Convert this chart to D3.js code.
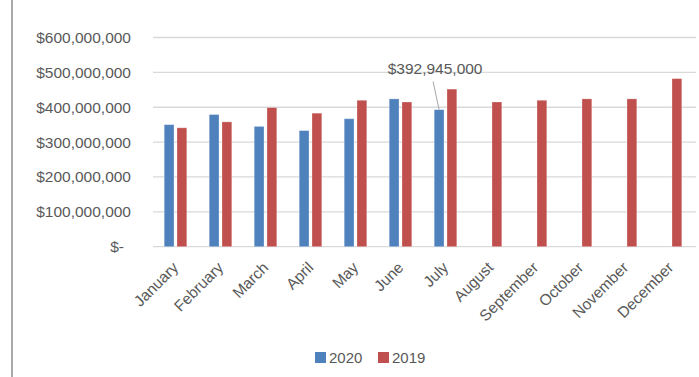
<!DOCTYPE html>
<html>
<head>
<meta charset="utf-8">
<script src="https://cdn.jsdelivr.net/npm/d3@7"></script>
<style>
  body { margin: 0; background: #fff; }
  svg { display: block; font-family: "Liberation Sans", Arial, sans-serif; }
</style>
</head>
<body>
<div id="chart"></div>
<script>
// Monthly values
const months = ["January", "February", "March", "April", "May", "June", "July",
  "August", "September", "October", "November", "December"];
const sales2020 = [350e6, 379e6, 345e6, 333e6, 367e6, 424e6, 392945000, null, null, null, null, null];
const sales2019 = [341e6, 358e6, 399e6, 383e6, 420e6, 415e6, 452e6, 415e6, 420e6, 424e6, 424e6, 482e6];
const yTicks = [0, 100e6, 200e6, 300e6, 400e6, 500e6, 600e6];
const seriesNames = ["2020", "2019"];

const width = 699, height = 377;
const blue = "#4f81bd", red = "#c0504d";
const textColor = "#595959";

const svg = d3.select("#chart").append("svg")
  .attr("width", width).attr("height", height);

// left frame edge
svg.append("line")
  .attr("x1", 12).attr("x2", 12).attr("y1", 0).attr("y2", height)
  .attr("stroke", "#8c8c8c").attr("stroke-width", 1.5);

const plot = { left: 153, right: 693, top: 37.5, bottom: 246.7 };

const x = d3.scaleBand().domain(months).range([plot.left, plot.right]);
const y = d3.scaleLinear().domain([0, 600e6]).range([plot.bottom, plot.top]);

// gridlines
svg.append("g").selectAll("line").data(yTicks).enter().append("line")
  .attr("x1", plot.left).attr("x2", 696)
  .attr("y1", d => y(d)).attr("y2", d => y(d))
  .attr("stroke", "#d9d9d9").attr("stroke-width", 1.3);

// y axis labels
const fmt = d3.format(",");
svg.append("g").selectAll("text").data(yTicks).enter().append("text")
  .attr("x", d => d === 0 ? 124 : 131)
  .attr("y", d => y(d)).attr("dy", "0.35em")
  .attr("text-anchor", "end")
  .attr("font-size", "15.5px").attr("fill", textColor)
  .text(d => d === 0 ? "$-" : "$" + fmt(d));

// bars
const barW = 9.8, gap = 3;
const series = [sales2020, sales2019];
const colors = [blue, red];
series.forEach((vals, si) => {
  svg.append("g").selectAll("rect")
    .data(months.map((m, i) => ({ m, v: vals[i] })).filter(d => d.v != null))
    .enter().append("rect")
    .attr("x", d => x(d.m) + x.bandwidth() / 2 - barW - gap / 2 + si * (barW + gap))
    .attr("y", d => y(d.v))
    .attr("width", barW)
    .attr("height", d => y(0) - y(d.v))
    .attr("fill", colors[si])
    .attr("stroke", "#ffffff").attr("stroke-opacity", 0.35).attr("stroke-width", 0.8);
});

// data label for July 2020
const julyX = x("July") + x.bandwidth() / 2 - gap / 2 - barW / 2;
svg.append("line")
  .attr("x1", julyX - 6).attr("y1", 81.5)
  .attr("x2", julyX).attr("y2", y(sales2020[6]))
  .attr("stroke", "#a6a6a6").attr("stroke-width", 1);
svg.append("text")
  .attr("x", julyX - 4).attr("y", 73.5)
  .attr("text-anchor", "middle")
  .attr("font-size", "15.5px").attr("fill", textColor)
  .text("$" + fmt(sales2020[6]));

// x axis labels
svg.append("g").selectAll("text").data(months).enter().append("text")
  .attr("transform", d => `translate(${x(d) + x.bandwidth() / 2},${plot.bottom + 18}) rotate(-45)`)
  .attr("text-anchor", "end")
  .attr("dy", "0.35em")
  .attr("font-size", "15.5px").attr("fill", textColor)
  .text(d => d);

// legend
const legend = svg.append("g");
const legendItems = [{ name: seriesNames[0], color: blue, x: 315 }, { name: seriesNames[1], color: red, x: 378 }];
legendItems.forEach(it => {
  legend.append("rect").attr("x", it.x).attr("y", 352).attr("width", 11).attr("height", 11).attr("fill", it.color);
  legend.append("text").attr("x", it.x + 14).attr("y", 362.5)
    .attr("font-size", "15px").attr("fill", textColor).text(it.name);
});
</script>
</body>
</html>
